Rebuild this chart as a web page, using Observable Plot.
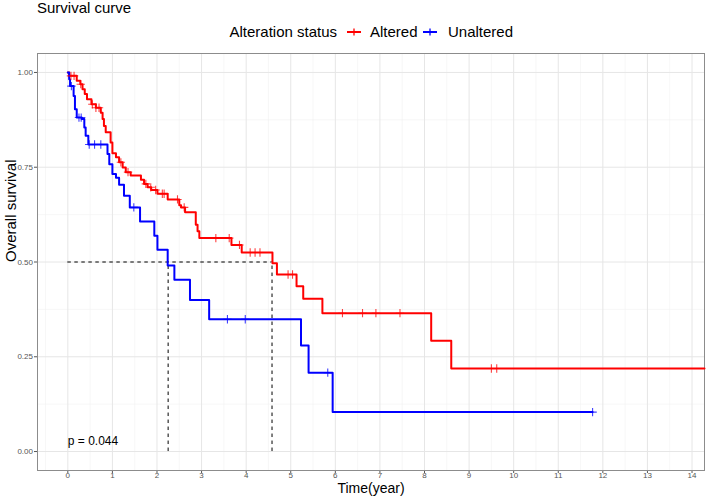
<!DOCTYPE html>
<html>
<head>
<meta charset="utf-8">
<script src="https://cdn.jsdelivr.net/npm/d3@7"></script>
<script src="https://cdn.jsdelivr.net/npm/@observablehq/plot@0.6"></script>
<style>
  html, body { margin: 0; padding: 0; background: #fff; }
  body { font-family: "Liberation Sans", Arial, sans-serif; color: #000; width: 708px; }
  #title { height: 15px; line-height: 15px; font-size: 15px; padding-left: 37px; white-space: nowrap; }
  #legend { position: relative; height: 33px; font-size: 15px; }
  #legend span { position: absolute; top: 9px; line-height: 15px; white-space: nowrap; }
  #legend svg { position: absolute; top: 12px; }
  #chart svg { display: block; }
</style>
</head>
<body>
<div id="title">Survival curve</div>
<div id="legend"></div>
<div id="chart"></div>
<script>
// ---- data ----
const groups = ["Altered", "Unaltered"];
const groupColors = ["#FF0000", "#0000FF"];

const alteredTime = [0, 0.03, 0.20, 0.28, 0.33, 0.38, 0.43, 0.53, 0.63, 0.74, 0.78, 0.81, 0.85, 0.96, 1.00, 1.08, 1.15, 1.23, 1.30, 1.41, 1.64, 1.71, 1.79, 1.87, 2.01, 2.24, 2.50, 2.54, 2.63, 2.87, 2.91, 2.95, 3.67, 3.90, 4.59, 4.69, 5.13, 5.28, 5.71, 8.15, 8.60, 14.28];
const alteredSurv = [1.000, 0.991, 0.978, 0.969, 0.956, 0.943, 0.929, 0.916, 0.907, 0.894, 0.877, 0.859, 0.842, 0.815, 0.787, 0.776, 0.763, 0.749, 0.737, 0.728, 0.717, 0.706, 0.697, 0.690, 0.680, 0.665, 0.650, 0.644, 0.631, 0.598, 0.581, 0.563, 0.545, 0.525, 0.497, 0.467, 0.436, 0.403, 0.365, 0.292, 0.219, 0.219];
const alteredCensor = [0.07, 0.14, 0.29, 0.55, 0.63, 0.70, 1.19, 1.35, 1.75, 1.86, 1.97, 2.12, 2.16, 2.46, 2.61, 3.32, 3.62, 3.85, 4.09, 4.20, 4.31, 4.94, 5.04, 6.16, 6.61, 6.91, 7.45, 9.50, 9.62];

const unalteredTime = [0, 0.03, 0.05, 0.13, 0.16, 0.20, 0.31, 0.37, 0.40, 0.46, 0.89, 0.93, 1.00, 1.08, 1.15, 1.26, 1.39, 1.62, 1.94, 2.01, 2.24, 2.39, 2.74, 3.17, 5.23, 5.40, 5.94, 11.77];
const unalteredSurv = [1.000, 0.982, 0.964, 0.938, 0.903, 0.881, 0.877, 0.855, 0.833, 0.810, 0.785, 0.758, 0.732, 0.722, 0.704, 0.675, 0.644, 0.607, 0.569, 0.532, 0.491, 0.453, 0.400, 0.349, 0.280, 0.208, 0.104, 0.104];
const unalteredCensor = [0.08, 0.25, 0.30, 0.48, 0.60, 0.74, 1.48, 3.58, 3.98, 5.83, 11.77];

const medianTimes = [2.25, 4.58];
const medianLevel = 0.5;
const pValueText = "p = 0.044";
const xTicks = [0, 1, 2, 3, 4, 5, 6, 7, 8, 9, 10, 11, 12, 13, 14];
const xMinorTicks = [-0.5, 0.5, 1.5, 2.5, 3.5, 4.5, 5.5, 6.5, 7.5, 8.5, 9.5, 10.5, 11.5, 12.5, 13.5];
const yTicks = [0, 0.25, 0.5, 0.75, 1];
const yMinorTicks = [0.125, 0.375, 0.625, 0.875];
const xTitle = "Time(year)";
const yTitle = "Overall survival";
const legendTitle = "Alteration status";

// ---- build tables ----
const series = [
  {name: groups[0], time: alteredTime, surv: alteredSurv, censor: alteredCensor},
  {name: groups[1], time: unalteredTime, surv: unalteredSurv, censor: unalteredCensor}
];
const lineRows = series.flatMap(s => s.time.map((t, i) => ({group: s.name, t, s: s.surv[i]})));
function survAt(times, surv, t) {
  const i = Math.max(0, d3.bisectRight(times, t) - 1);
  return surv[i];
}
const censorRows = series.flatMap(s => s.censor.map(t => ({group: s.name, t, s: survAt(s.time, s.surv, t)})));

// ---- legend (HTML above the SVG) ----
const legend = document.getElementById("legend");
function addSpan(text, left) {
  const sp = document.createElement("span");
  sp.textContent = text; sp.style.left = left + "px";
  legend.appendChild(sp);
}
function addKey(color, left) {
  const ns = "http://www.w3.org/2000/svg";
  const svg = document.createElementNS(ns, "svg");
  svg.setAttribute("width", 14); svg.setAttribute("height", 10);
  svg.style.left = left + "px";
  const h = document.createElementNS(ns, "line");
  h.setAttribute("x1", 0); h.setAttribute("x2", 14); h.setAttribute("y1", 5); h.setAttribute("y2", 5);
  h.setAttribute("stroke", color); h.setAttribute("stroke-width", 2);
  const v = document.createElementNS(ns, "line");
  v.setAttribute("x1", 7); v.setAttribute("x2", 7); v.setAttribute("y1", 1.5); v.setAttribute("y2", 8.5);
  v.setAttribute("stroke", color); v.setAttribute("stroke-width", 1.3);
  svg.appendChild(h); svg.appendChild(v);
  legend.appendChild(svg);
}
addSpan(legendTitle, 229.5);
addKey(groupColors[0], 347);
addSpan(groups[0], 370);
addKey(groupColors[1], 423);
addSpan(groups[1], 448);

// ---- chart ----
const chart = Plot.plot({
  width: 708,
  height: 451,
  marginTop: 5,
  marginBottom: 29,
  marginLeft: 37,
  marginRight: 4,
  style: {fontFamily: "'Liberation Sans', Arial, sans-serif", background: "#fff", overflow: "visible"},
  x: {domain: [-0.68, 14.28]},
  y: {domain: [-0.05, 1.05]},
  color: {domain: groups, range: groupColors},
  marks: [
    Plot.gridX(xMinorTicks, {stroke: "#f1f1f1", strokeOpacity: 1, strokeWidth: 0.6}),
    Plot.gridY(yMinorTicks, {stroke: "#f1f1f1", strokeOpacity: 1, strokeWidth: 0.6}),
    Plot.gridX(xTicks, {stroke: "#e6e6e6", strokeOpacity: 1, strokeWidth: 1}),
    Plot.gridY(yTicks, {stroke: "#e6e6e6", strokeOpacity: 1, strokeWidth: 1}),
    Plot.axisX(xTicks, {tickSize: 3, tickPadding: -1, fontSize: 8, color: "#555", label: null}),
    Plot.axisY(yTicks, {tickSize: 3, tickPadding: 1.5, fontSize: 8, color: "#555", tickFormat: d3.format(".2f"), label: null}),
    Plot.frame({stroke: "#8c8c8c"}),
    Plot.ruleY([medianLevel], {x1: 0, x2: medianTimes[1], stroke: "#000", strokeWidth: 1, strokeDasharray: "3.5,3.5"}),
    Plot.ruleX(medianTimes, {y1: 0, y2: medianLevel, stroke: "#000", strokeWidth: 1, strokeDasharray: "3.5,3.5"}),
    Plot.line(lineRows, {x: "t", y: "s", z: "group", stroke: "group", curve: "step-after", strokeWidth: 2}),
    Plot.dot(censorRows, {x: "t", y: "s", stroke: "group", symbol: "plus", r: 2.8, strokeWidth: 1.1, strokeOpacity: 0.75}),
    Plot.text([pValueText], {x: 0, y: 0.028, text: d => d, textAnchor: "start", fontSize: 12, fill: "#000"}),
    Plot.text([xTitle], {frameAnchor: "bottom", dy: 22, text: d => d, fontSize: 14, fill: "#000"}),
    Plot.text([yTitle], {frameAnchor: "left", dx: -26, rotate: -90, text: d => d, fontSize: 15, fill: "#000"})
  ]
});
document.getElementById("chart").appendChild(chart);
</script>
</body>
</html>
